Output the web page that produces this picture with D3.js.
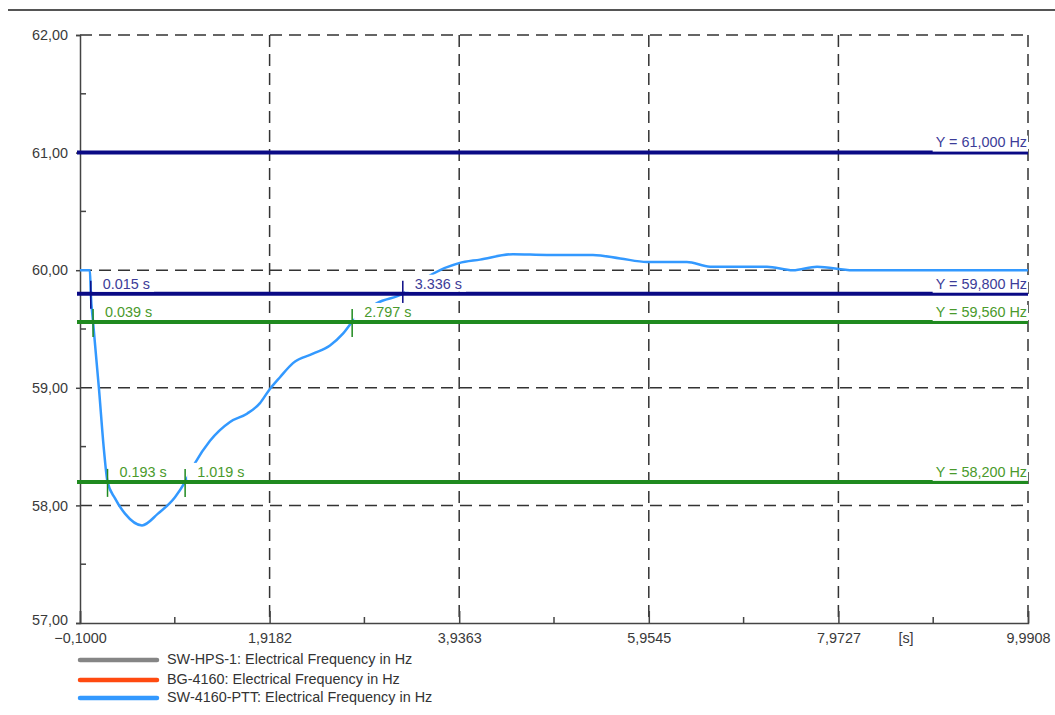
<!DOCTYPE html>
<html lang="en">
<head>
	<title>Electrical Frequency</title>
	<script src="https://d3js.org/d3.v7.min.js" charset="utf-8"></script>
	<style>
		body { margin: 0; background: #fff; }
		text { font-family: "Liberation Sans", Arial, sans-serif; }
	</style>
</head>
<body>
	<script>
    // chart data
    var xTicks = [-0.1, 1.9182, 3.9363, 5.9545, 7.9727, 9.9908];
    var yTicks = [57, 58, 59, 60, 61, 62];

    // SW-4160-PTT frequency trace (s, Hz)
    var timeS = [-0.1, 0.005, 0.015, 0.039, 0.102, 0.155, 0.193, 0.273, 0.379, 0.56, 0.73, 0.911, 1.019,
                 1.124, 1.284, 1.497, 1.678, 1.816, 1.912, 2.029, 2.167, 2.38, 2.561, 2.699, 2.797,
                 3.061, 3.336, 3.5, 3.657, 3.934, 4.158, 4.509, 4.871, 5.36, 5.65, 5.935, 6.36,
                 6.606, 7.212, 7.489, 7.745, 8.128, 9.9908];
    var freqHz = [60.0, 60.0, 59.8, 59.56, 58.99, 58.47, 58.2, 58.06, 57.93, 57.83, 57.93, 58.07, 58.2,
                  58.36, 58.55, 58.71, 58.78, 58.87, 58.98, 59.09, 59.21, 59.29, 59.36, 59.46, 59.56,
                  59.72, 59.8, 59.89, 59.97, 60.06, 60.09, 60.136, 60.13, 60.13, 60.1, 60.07, 60.07,
                  60.03, 60.03, 60.0, 60.03, 60.0, 60.0];

    // limit lines and their crossing times
    var limitY = [61.0, 59.8, 59.56, 58.2];
    var limitColor = ["#0a0a85", "#0a0a85", "#1f8a1f", "#1f8a1f"];
    var limitText = ["#3c3c98", "#3c3c98", "#4a9a2c", "#4a9a2c"];
    var crossTimes = [[], [0.015, 3.336], [0.039, 2.797], [0.193, 1.019]];

    var legendNames = ["SW-HPS-1: Electrical Frequency in Hz", "BG-4160: Electrical Frequency in Hz", "SW-4160-PTT: Electrical Frequency in Hz"];
    var legendColors = ["#858585", "#ff4a10", "#3399ff"];

    var width = 1055,
        height = 715,
        fs = "14.4px";

    var x = d3.scaleLinear().domain([-0.1, 9.9908]).range([80, 1028]);
    var y = d3.scaleLinear().domain([57, 62]).range([623, 35]);

    var comma = function(f) { return function(v) { return d3.format(f)(v).replace(".", ","); }; };

    var svg = d3.select("body").append("svg")
        .attr("width", width)
        .attr("height", height);

    // top rule
    svg.append("line")
        .attr("x1", 8).attr("x2", 1055).attr("y1", 10).attr("y2", 10)
        .attr("stroke", "#555").attr("stroke-width", 2);

    // dashed grid
    var grid = svg.append("g").attr("stroke", "#333").attr("stroke-width", 1.5).attr("stroke-dasharray", "12,7");
    grid.selectAll(".gx").data(xTicks.slice(1)).enter().append("line")
        .attr("x1", function(d) { return x(d); }).attr("x2", function(d) { return x(d); })
        .attr("y1", y(62)).attr("y2", y(57));
    grid.selectAll(".gy").data(yTicks.slice(1)).enter().append("line")
        .attr("x1", x(-0.1)).attr("x2", x(9.9908))
        .attr("y1", function(d) { return y(d); }).attr("y2", function(d) { return y(d); });

    // axes
    var yAxis = svg.append("g")
        .attr("transform", "translate(" + x(-0.1) + ",0)")
        .call(d3.axisLeft(y).tickValues(yTicks).tickSize(4).tickPadding(8).tickFormat(comma(".2f")));
    var xAxis = svg.append("g")
        .attr("transform", "translate(0," + y(57) + ")")
        .call(d3.axisBottom(x).tickValues(xTicks).tickSize(-12).tickPadding(10).tickFormat(comma(".4f")));
    [yAxis, xAxis].forEach(function(a) {
      a.select(".domain").attr("stroke", "#444").attr("stroke-width", 1.5);
      a.selectAll(".tick line").attr("stroke", "#444").attr("stroke-width", 1.5);
      a.selectAll("text").attr("fill", "#3a3a3a").style("font-size", fs);
    });
    yAxis.selectAll(".tick text").filter(function(d) { return d === 57; }).attr("dy", "0.1em");

    // minor ticks
    var xMinor = xTicks.slice(0, -1).map(function(d, i) { return (d + xTicks[i + 1]) / 2; });
    var yMinor = yTicks.slice(0, -1).map(function(d) { return d + 0.5; });
    svg.append("g").selectAll("line").data(xMinor).enter().append("line")
        .attr("x1", function(d) { return x(d); }).attr("x2", function(d) { return x(d); })
        .attr("y1", y(57)).attr("y2", y(57) - 6)
        .attr("stroke", "#444").attr("stroke-width", 1.5);
    svg.append("g").selectAll("line").data(yMinor).enter().append("line")
        .attr("x1", x(-0.1)).attr("x2", x(-0.1) + 6)
        .attr("y1", function(d) { return y(d); }).attr("y2", function(d) { return y(d); })
        .attr("stroke", "#444").attr("stroke-width", 1.5);

    svg.append("text")
        .attr("x", 906).attr("y", y(57) + 16).attr("text-anchor", "middle")
        .attr("dominant-baseline", "middle")
        .style("font-size", fs).attr("fill", "#3a3a3a")
        .text("[s]");

    // frequency trace
    var pts = timeS.map(function(t, i) { return [t, freqHz[i]]; });
    var line = d3.line()
        .x(function(d) { return x(d[0]); })
        .y(function(d) { return y(d[1]); })
        .curve(d3.curveMonotoneX);
    svg.append("path")
        .datum(pts)
        .attr("d", line)
        .attr("fill", "none")
        .attr("stroke", "#3399ff")
        .attr("stroke-width", 2.5);

    // limit lines
    limitY.forEach(function(v, i) {
      var ly = y(v);
      svg.append("line")
          .attr("x1", 77).attr("x2", x(9.9908))
          .attr("y1", ly).attr("y2", ly)
          .attr("stroke", limitColor[i]).attr("stroke-width", 4);

      // crossing markers
      crossTimes[i].forEach(function(t) {
        var cx = x(t);
        svg.append("line")
            .attr("x1", cx).attr("x2", cx)
            .attr("y1", ly - 13).attr("y2", ly + 15)
            .attr("stroke", limitColor[i]).attr("stroke-width", 1.5);
        var lbl = svg.append("g");
        var txt = lbl.append("text")
            .attr("x", cx + 12).attr("y", ly - 9)
            .attr("dominant-baseline", "middle")
            .style("font-size", fs).attr("fill", limitText[i])
            .text(d3.format(".3f")(t) + " s");
        var w = txt.node().getComputedTextLength();
        lbl.insert("rect", "text")
            .attr("x", cx + 2).attr("y", ly - 19)
            .attr("width", w + 14).attr("height", 17)
            .attr("fill", "#fff");
      });

      // value label on the right
      var g = svg.append("g");
      var vt = g.append("text")
          .attr("x", x(9.9908) - 1).attr("y", ly - 9)
          .attr("text-anchor", "end")
          .attr("dominant-baseline", "middle")
          .style("font-size", fs).attr("fill", limitText[i])
          .text("Y = " + d3.format(".3f")(v).replace(".", ",") + " Hz");
      var vw = vt.node().getComputedTextLength();
      g.insert("rect", "text")
          .attr("x", x(9.9908) - vw - 4).attr("y", ly - 17)
          .attr("width", vw + 4).attr("height", 16)
          .attr("fill", "#fff");
    });

    // legend
    var legend = svg.append("g").selectAll("g").data(legendNames).enter().append("g")
        .attr("transform", function(d, i) { return "translate(80," + [660, 680, 698][i] + ")"; });
    legend.append("line")
        .attr("x1", 0).attr("x2", 77)
        .attr("stroke", function(d, i) { return legendColors[i]; })
        .attr("stroke-width", 4.5).attr("stroke-linecap", "round");
    legend.append("text")
        .attr("x", 87).attr("dominant-baseline", "middle")
        .style("font-size", fs).attr("fill", "#333")
        .text(function(d) { return d; });
	</script>
</body>
</html>
